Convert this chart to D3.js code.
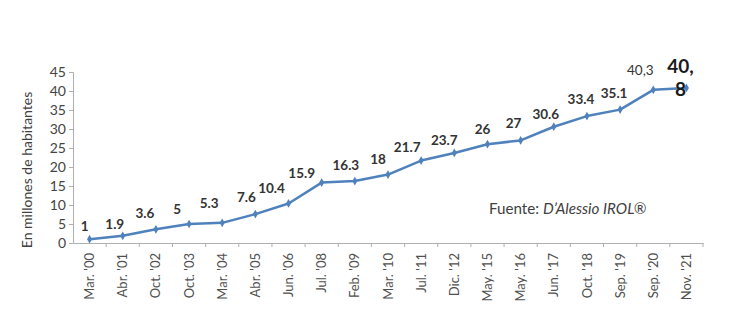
<!DOCTYPE html>
<html><head><meta charset="utf-8">
<script src="https://cdn.jsdelivr.net/npm/d3@7"></script>
<style>
html,body{margin:0;padding:0;background:#fff;}
svg{display:block;}
text{font-family:Lato,"Open Sans",sans-serif;}
</style></head>
<body>
<svg id="chart" width="730" height="326"></svg>
<script>
const categories = ["Mar. '00","Abr. '01","Oct. '02","Oct. '03","Mar. '04","Abr. '05","Jun. '06","Jul. '08","Feb. '09","Mar. '10","Jul. '11","Dic. '12","May. '15","May. '16","Jun. '17","Oct. '18","Sep. '19","Sep. '20","Nov. '21"];
const values = [1,1.9,3.6,5,5.3,7.6,10.4,15.9,16.3,18,21.7,23.7,26,27,30.6,33.4,35.1,40.3,40.8];
const valueLabels = ["1","1.9","3.6","5","5.3","7.6","10.4","15.9","16.3","18","21.7","23.7","26","27","30.6","33.4","35.1","40,3","40,8"];
const yTicks = [0,5,10,15,20,25,30,35,40,45];
const yTitle = "En millones de habitantes";

// label nudges (styling only, relative offsets)
const nudge = [[-5,-8],[-8,-7],[-11,-11],[-12,-10],[-13,-15],[-9,-12],[-17,-10],[-20,-5],[-9,-11],[-10,-11],[-14,-9],[-10,-8],[-5,-10],[-7,-12],[-8,-8],[-6,-12],[-6,-12],[-13,-15],[0,0]];

const svg = d3.select("#chart");
const x = d3.scaleBand().domain(categories).range([73,703]).padding(0);
const y = d3.scaleLinear().domain([0,45]).range([243,72]);
const cx = d => x(d) + x.bandwidth()/2;

// Y axis
const yAxis = svg.append("g").attr("transform","translate(73,0)")
  .call(d3.axisLeft(y).tickValues(yTicks).tickSize(4).tickPadding(3));
yAxis.select(".domain").attr("stroke","#b0b0b0");
yAxis.selectAll(".tick line").attr("stroke","#b0b0b0");
yAxis.selectAll(".tick text").attr("font-size",14).attr("fill","#444");

// X axis
const xAxis = svg.append("g").attr("transform","translate(0,243)")
  .call(d3.axisBottom(x).tickSize(0).tickSizeOuter(0).tickPadding(0));
xAxis.select(".domain").attr("stroke","#b0b0b0");
xAxis.selectAll(".tick text")
  .attr("font-size",13).attr("fill","#505050")
  .attr("text-anchor","end")
  .attr("transform","rotate(-90)")
  .attr("x",-10).attr("y",0).attr("dy","0.35em");
// boundary tick marks
const bounds = categories.map(c => x(c)).concat([x.range()[1]]);
svg.append("g").selectAll("line").data(bounds.slice(1)).join("line")
  .attr("x1",d=>d).attr("x2",d=>d).attr("y1",243).attr("y2",247)
  .attr("stroke","#b0b0b0");

// Y title
svg.append("text").attr("transform","translate(32,170) rotate(-90)")
  .attr("text-anchor","middle").attr("font-size",14).attr("fill","#404040").text(yTitle);

// line
const pts = categories.map((c,i)=>({c, v:values[i], l:valueLabels[i], i}));
svg.append("path").datum(pts)
  .attr("fill","none").attr("stroke","#4f81bd").attr("stroke-width",2.5)
  .attr("stroke-linejoin","round")
  .attr("d", d3.line().x(d=>cx(d.c)).y(d=>y(d.v)));
svg.append("g").selectAll("path").data(pts).join("path")
  .attr("d", d3.symbol(d3.symbolDiamond, 22))
  .attr("transform", d=>`translate(${cx(d.c)},${y(d.v)})`)
  .attr("fill","#4f81bd");

// labels
const lab = svg.append("g");
pts.slice(0,-1).forEach(d=>{
  lab.append("text").attr("x",cx(d.c)+nudge[d.i][0]).attr("y",y(d.v)+nudge[d.i][1])
    .attr("text-anchor","middle").attr("font-size",13.5)
    .attr("font-weight", d.l.indexOf(",")>=0 ? "normal" : "bold")
    .attr("fill","#333").text(d.l);
});
const last = pts[pts.length-1];
const parts = last.l.split(",");
const lt = lab.append("text").attr("text-anchor","middle").attr("font-size",19).attr("font-weight","bold").attr("fill","#1a1a1a");
lt.append("tspan").attr("x",cx(last.c)-6).attr("y",y(last.v)-15).text(parts[0]+",");
lt.append("tspan").attr("x",cx(last.c)-6).attr("y",y(last.v)+8).text(parts[1]);

// source
const src = svg.append("text").attr("x",489).attr("y",214).attr("font-size",15.2).attr("fill","#404040");
src.append("tspan").text("Fuente: ");
src.append("tspan").attr("font-style","italic").text("D\u2019Alessio IROL\u00AE");
</script>
</body></html>
